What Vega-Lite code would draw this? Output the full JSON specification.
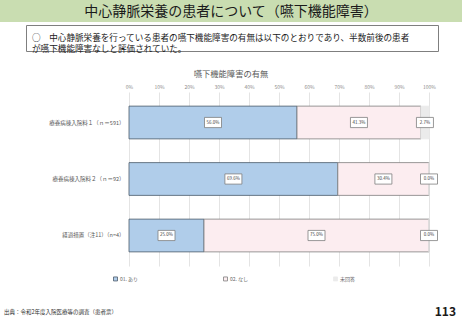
{
  "$schema": "https://vega.github.io/schema/vega-lite/v6.json",
  "background": "white",
  "padding": 0,
  "spacing": 14,
  "config": {"view": {"stroke": null}, "font": "Noto Sans CJK JP"},
  "vconcat": [
    {
      "spacing": 2,
      "vconcat": [
        {
          "width": 462,
          "height": 22,
          "view": {"fill": "#c9ddb1", "stroke": null},
          "data": {"values": [{"t": "中心静脈栄養の患者について（嚥下機能障害）"}]},
          "mark": {"type": "text", "fontSize": 14, "dy": 0.5, "color": "#1a1a1a"},
          "encoding": {"text": {"field": "t"}}
        },
        {
          "spacing": 2,
          "hconcat": [
            {
              "width": 23,
              "height": 26,
              "data": {"values": [{"t": ""}]},
              "mark": {"type": "text"},
              "encoding": {"text": {"field": "t"}}
            },
            {
              "width": 412,
              "height": 26,
              "view": {"fill": "white", "stroke": "#7f7f7f", "strokeWidth": 1},
              "data": {"values": [{"t": ["○　中心静脈栄養を行っている患者の嚥下機能障害の有無は以下のとおりであり、半数前後の患者", "\u3000が嚥下機能障害なしと評価されていた。"]}]},
              "mark": {"type": "text", "align": "left", "x": 6, "fontSize": 8.6, "lineHeight": 11, "color": "#1a1a1a"},
              "encoding": {"text": {"field": "t"}}
            }
          ]
        }
      ]
    },
    {
      "width": 462,
      "height": 174,
      "title": {"text": "嚥下機能障害の有無", "fontSize": 8.3, "fontWeight": "normal", "color": "#595959", "frame": "group", "anchor": "middle", "offset": 6},
      "data": {"values": [
        {"cat": "療養病棟入院料１（ｎ＝591）", "resp": "01. あり", "v": 0.560},
        {"cat": "療養病棟入院料１（ｎ＝591）", "resp": "02. なし", "v": 0.413},
        {"cat": "療養病棟入院料１（ｎ＝591）", "resp": "未回答", "v": 0.027},
        {"cat": "療養病棟入院料２（ｎ＝92）", "resp": "01. あり", "v": 0.696},
        {"cat": "療養病棟入院料２（ｎ＝92）", "resp": "02. なし", "v": 0.304},
        {"cat": "療養病棟入院料２（ｎ＝92）", "resp": "未回答", "v": 0.0},
        {"cat": "経過措置（注11）（n=4）", "resp": "01. あり", "v": 0.25},
        {"cat": "経過措置（注11）（n=4）", "resp": "02. なし", "v": 0.75},
        {"cat": "経過措置（注11）（n=4）", "resp": "未回答", "v": 0.0}
      ]},
      "encoding": {
        "y": {
          "field": "cat", "type": "nominal", "sort": null, "title": null,
          "scale": {"paddingInner": 0.42, "paddingOuter": 0.25},
          "axis": {"ticks": false, "domain": false, "labelFontSize": 5.5, "labelColor": "#595959", "labelPadding": 5, "offset": -129, "minExtent": 0}
        },
        "order": {"field": "resp", "type": "nominal", "sort": "ascending"}
      },
      "layer": [
        {
          "mark": {"type": "bar", "strokeWidth": 0.8},
          "encoding": {
            "x": {
              "field": "v", "type": "quantitative", "stack": "zero", "title": null,
              "scale": {"domain": [-0.43, 1.11], "nice": false, "zero": false},
              "axis": {"orient": "top", "format": ".0%", "values": [0, 0.1, 0.2, 0.3, 0.4, 0.5, 0.6, 0.7, 0.8, 0.9, 1], "domain": false, "ticks": false, "grid": true, "gridColor": "#d9d9d9", "gridWidth": 0.7, "labelFontSize": 5, "labelColor": "#8c8c8c", "labelPadding": 3}
            },
            "color": {
              "field": "resp", "type": "nominal",
              "scale": {"domain": ["01. あり", "02. なし", "未回答"], "range": ["#b0cdea", "#fcedf0", "#ebebeb"]},
              "legend": {"title": null, "orient": "none", "legendX": 113, "legendY": 276, "direction": "horizontal", "symbolType": "square", "symbolSize": 16, "labelFontSize": 5, "labelColor": "#666666", "columnPadding": 82, "labelOffset": 2, "symbolStrokeWidth": 0.8}
            },
            "stroke": {
              "field": "resp", "type": "nominal",
              "scale": {"domain": ["01. あり", "02. なし", "未回答"], "range": ["#4d5a6a", "#7f7f7f", "#ebebeb"]}
            }
          }
        },
        {
          "mark": {"type": "point", "shape": "M-1,-0.6H1V0.6H-1Z", "size": 289, "filled": true, "fill": "white", "stroke": "#7f7f7f", "strokeWidth": 0.8, "opacity": 1},
          "encoding": {
            "x": {"field": "v", "type": "quantitative", "stack": "zero", "bandPosition": 0.5},
            "detail": {"field": "resp"}
          }
        },
        {
          "mark": {"type": "text", "fontSize": 4.5, "color": "#404040"},
          "encoding": {
            "x": {"field": "v", "type": "quantitative", "stack": "zero", "bandPosition": 0.5},
            "detail": {"field": "resp"},
            "text": {"field": "v", "type": "quantitative", "format": ".1%"}
          }
        }
      ]
    },
    {
      "width": 462,
      "height": 40,
      "layer": [
        {
          "data": {"values": [{"t": "出典：令和2年度入院医療等の調査（患者票）"}]},
          "mark": {"type": "text", "align": "left", "x": 4, "dy": 12, "fontSize": 5.5, "color": "#333333"},
          "encoding": {"text": {"field": "t"}}
        },
        {
          "data": {"values": [{"t": "113"}]},
          "mark": {"type": "text", "align": "right", "x": 456, "dy": 12, "fontSize": 12, "fontWeight": "bold", "color": "#1a1a1a"},
          "encoding": {"text": {"field": "t"}}
        }
      ]
    }
  ]
}
